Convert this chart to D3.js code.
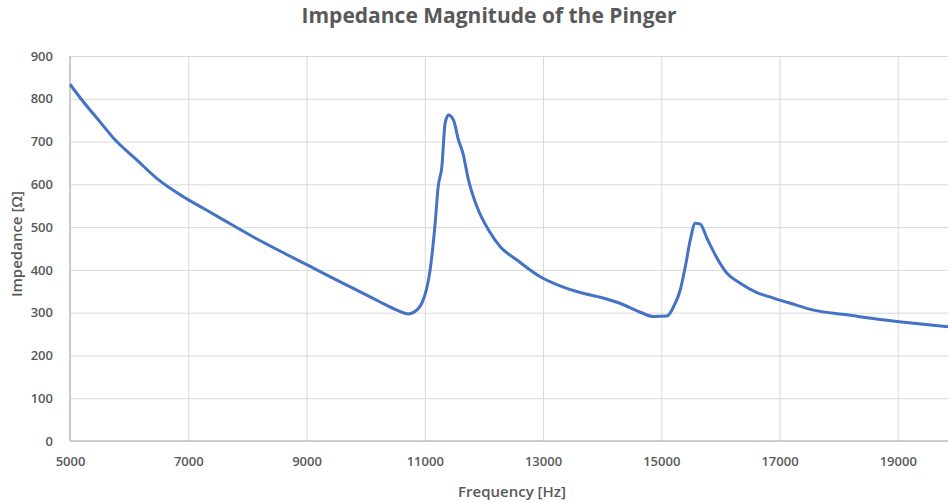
<!DOCTYPE html>
<html>
<head>
<meta charset="utf-8">
<script src="https://cdn.jsdelivr.net/npm/d3@7"></script>
<style>
  body { margin: 0; background: #fff; }
  .grid line { stroke: #d9d9d9; stroke-width: 1; }
  .grid path { display: none; }
  .tick text { font-family: "Open Sans", sans-serif; font-weight: 600; fill: #595959; font-size: 13px; }
  .axis path, .axis line { display: none; }
  .label { font-family: "Open Sans", sans-serif; font-weight: 600; fill: #595959; }
</style>
</head>
<body>
<div class="d3Area"></div>
<script>
// frequency [Hz]
let freq = [5000, 5225, 5508, 5762, 6129, 6467, 6917, 7255, 7594, 8102, 8666, 9021,
  9512, 10076, 10245, 10528, 10725, 10800, 10950, 11091, 11176, 11227, 11289, 11345,
  11401, 11486, 11570, 11645, 11740, 11882, 12079, 12277, 12560, 12953, 13320, 13629,
  14000, 14300, 14645, 14870, 15096, 15209, 15321, 15406, 15491, 15575, 15660, 15773,
  15914, 16111, 16336, 16618, 16900, 17183, 17577, 18141, 18705, 19269, 19850];
// impedance magnitude [ohm]
let impedance = [834, 793, 746, 704, 657, 614, 571, 544, 517, 477, 436, 411,
  376, 337, 325, 306, 297, 300, 322, 400, 509, 594, 641, 743,
  762, 750, 704, 673, 610, 548, 493, 454, 423, 384, 361, 347,
  335, 322, 301, 291, 292, 314, 353, 407, 470, 509, 507, 474,
  435, 392, 369, 347, 334, 322, 306, 295, 284, 275, 267];

let xTicks = [5000, 7000, 9000, 11000, 13000, 15000, 17000, 19000];
let yTicks = [0, 100, 200, 300, 400, 500, 600, 700, 800, 900];

let data = freq.map((f, i) => ({ x: f, y: impedance[i] }));

var outerWidth = 948, outerHeight = 502;
var margin = { top: 56, right: 0, bottom: 61, left: 70 };
var width = outerWidth - margin.left - margin.right,
  height = outerHeight - margin.top - margin.bottom;

var svg = d3.select(".d3Area").append("svg")
  .attr("width", outerWidth)
  .attr("height", outerHeight);

var g = svg.append("g")
  .attr("transform", "translate(" + margin.left + "," + margin.top + ")");

var x = d3.scaleLinear().domain([5000, 19850]).range([0, width]);
var y = d3.scaleLinear().domain([0, 900]).range([height, 0]);

// gridlines
g.append("g").attr("class", "grid")
  .call(d3.axisLeft(y).tickValues(yTicks).tickSize(-width).tickFormat(""));
g.append("g").attr("class", "grid")
  .attr("transform", "translate(0," + height + ")")
  .call(d3.axisBottom(x).tickValues(xTicks).tickSize(-height).tickFormat(""));

// axis lines
g.append("line").attr("x1", 0).attr("x2", width).attr("y1", height).attr("y2", height)
  .attr("stroke", "#bfbfbf").attr("stroke-width", 1.5);
g.append("line").attr("x1", 0).attr("x2", 0).attr("y1", 0).attr("y2", height)
  .attr("stroke", "#bfbfbf").attr("stroke-width", 1.5);

// tick labels
g.append("g").attr("class", "axis")
  .call(d3.axisLeft(y).tickValues(yTicks).tickSize(0).tickPadding(17));
g.append("g").attr("class", "axis")
  .attr("transform", "translate(0," + height + ")")
  .call(d3.axisBottom(x).tickValues(xTicks).tickSize(0).tickPadding(16).tickFormat(d3.format("d")));

let line = d3.line().x((d) => x(d.x)).y((d) => y(d.y)).curve(d3.curveMonotoneX);

g.append("path")
  .datum(data)
  .attr("d", line)
  .attr("fill", "none")
  .attr("stroke", "#4472c4")
  .attr("stroke-width", 3)
  .attr("stroke-linejoin", "round");

svg.append("text").attr("class", "label")
  .attr("x", 489).attr("y", 23)
  .attr("text-anchor", "middle")
  .style("font-size", "21px")
  .style("font-weight", "700")
  .text("Impedance Magnitude of the Pinger");

svg.append("text").attr("class", "label")
  .attr("x", 512).attr("y", 497)
  .attr("text-anchor", "middle")
  .style("font-size", "15px")
  .text("Frequency [Hz]");

svg.append("text").attr("class", "label")
  .attr("transform", "translate(22,244) rotate(-90)")
  .attr("text-anchor", "middle")
  .style("font-size", "15px")
  .text("Impedance [Ω]");
</script>
</body>
</html>
